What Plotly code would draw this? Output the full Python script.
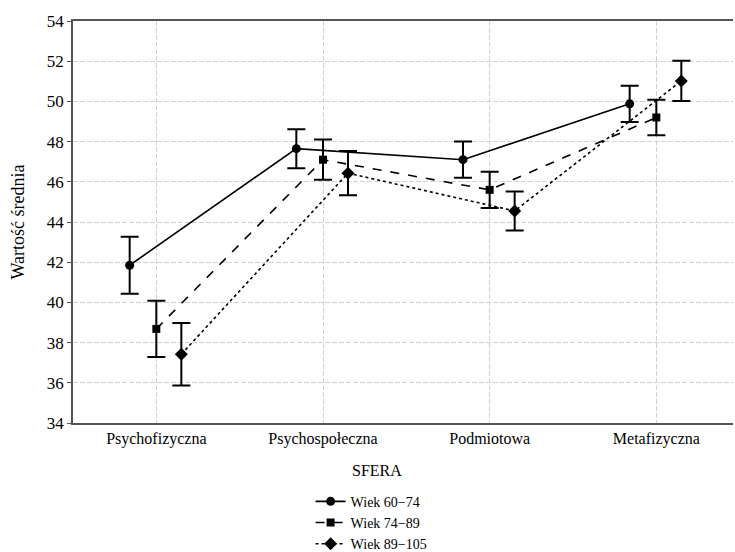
import plotly.graph_objects as go

categories = ["Psychofizyczna", "Psychospołeczna", "Podmiotowa", "Metafizyczna"]
series_names = ["Wiek 60\u221274", "Wiek 74\u221289", "Wiek 89\u2212105"]
means_60_74 = [41.85, 47.65, 47.1, 49.88]
err_60_74 = [1.42, 0.97, 0.9, 0.9]
means_74_89 = [38.68, 47.1, 45.6, 49.2]
err_74_89 = [1.4, 1.0, 0.9, 0.88]
means_89_105 = [37.42, 46.43, 44.55, 51.02]
err_89_105 = [1.55, 1.1, 0.97, 1.0]

offsets = [-0.16, 0.0, 0.15]
dashes = ["solid", "dash", "dot"]
symbols = ["circle", "square", "diamond"]
sizes = [9, 8, 10]
all_means = [means_60_74, means_74_89, means_89_105]
all_errs = [err_60_74, err_74_89, err_89_105]

fig = go.Figure()
for name, m, e, off, d, s, sz in zip(series_names, all_means, all_errs, offsets, dashes, symbols, sizes):
    fig.add_trace(go.Scatter(
        x=[i + off for i in range(len(categories))], y=m, name=name,
        mode="lines+markers",
        line=dict(color="black", width=1.6, dash=d),
        marker=dict(symbol=s, size=sz, color="black"),
        error_y=dict(type="data", array=e, visible=True, color="black", thickness=2, width=9),
    ))

fnt = "Liberation Serif, Times New Roman, serif"
fig.update_layout(
    width=735, height=552,
    margin=dict(l=73, r=2, t=21, b=129),
    paper_bgcolor="white", plot_bgcolor="white",
    font=dict(family=fnt, size=15, color="black"),
    showlegend=True,
    legend=dict(x=0.36, xref="paper", y=0.12, yref="container",
                xanchor="left", yanchor="top",
                font=dict(family=fnt, size=14), tracegroupgap=0,
                bgcolor="rgba(0,0,0,0)", itemwidth=30),
    xaxis=dict(
        range=[-0.5, 3.46], tickmode="array", tickvals=list(range(len(categories))),
        ticktext=categories, showgrid=True, gridcolor="#d2d2d2", griddash="5px,2px",
        gridwidth=1, zeroline=False, showline=True, linecolor="#555", linewidth=1.5,
        mirror=True, ticks="", tickfont=dict(size=16, family=fnt), automargin=False,
    ),
    yaxis=dict(
        range=[34, 54], dtick=2, showgrid=True, gridcolor="#d2d2d2", griddash="5px,2px",
        gridwidth=1, zeroline=False, showline=True, linecolor="#555", linewidth=1.5,
        ticks="outside", ticklen=4, tickcolor="#555", tickfont=dict(size=17, family=fnt),
        automargin=False,
        title=dict(text="Wartość średnia", font=dict(size=18, family=fnt), standoff=18),
    ),
    annotations=[dict(text="SFERA", xref="paper", yref="paper", x=0.46, y=-0.117,
                      xanchor="center", yanchor="middle", showarrow=False,
                      font=dict(size=16, family=fnt))],
)
fig.write_html("out.html", config={"displayModeBar": False},
               post_script="document.body.style.margin='0';document.body.style.padding='0';")
